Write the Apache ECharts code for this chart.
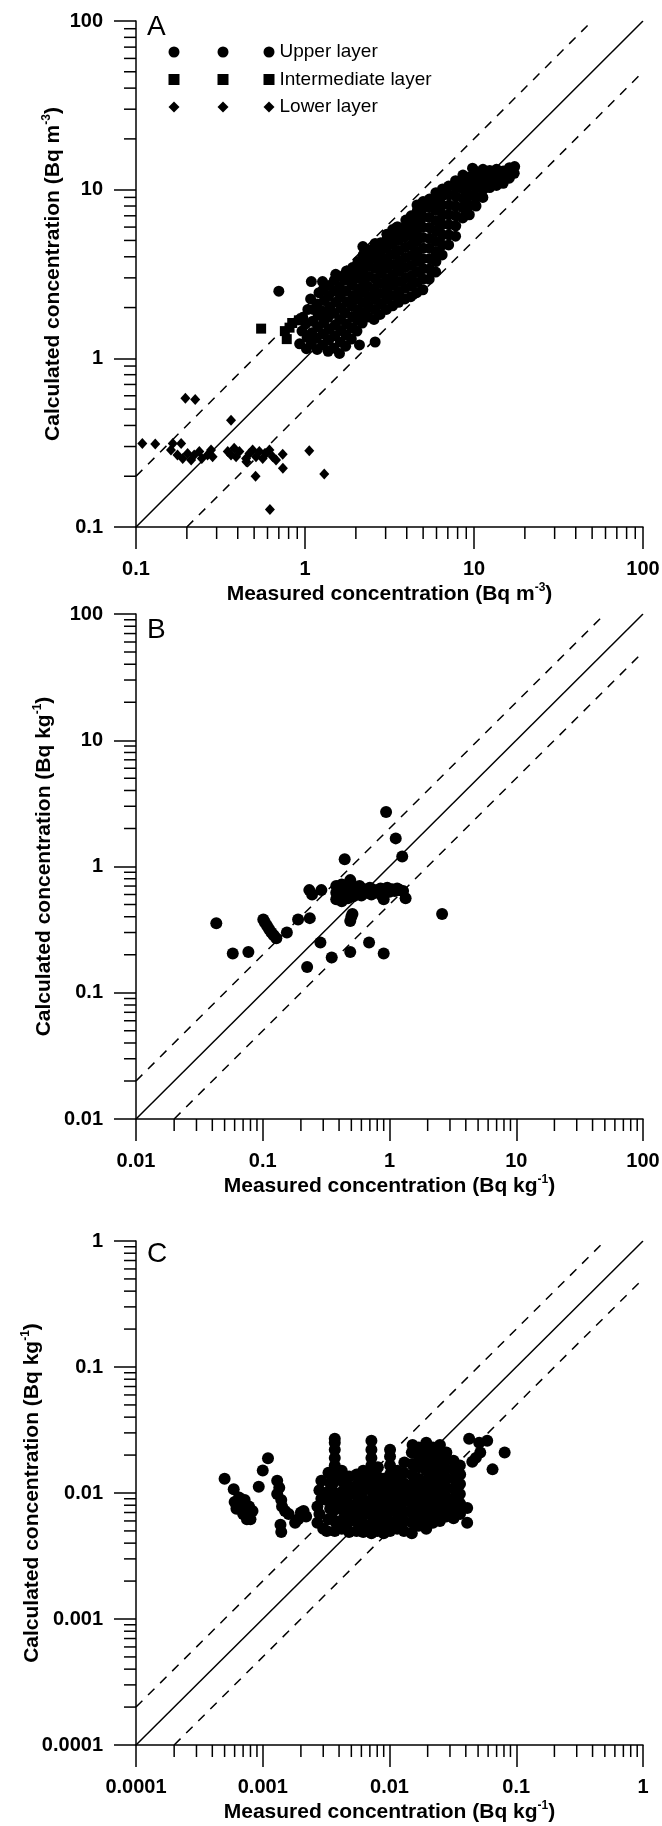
<!DOCTYPE html>
<html>
<head>
<meta charset="utf-8">
<script src="https://cdn.jsdelivr.net/npm/echarts@6/dist/echarts.min.js"></script>
<style>
html, body { margin: 0; padding: 0; background: #fff; }
#chart { width: 662px; height: 1826px; }
</style>
</head>
<body>
<div id="chart"></div>
<script>
var FONT = "'Liberation Sans', Arial, sans-serif";

// ---- panel A: Bq m-3, three layers ----
var aTicks = [0.1, 1, 10, 100];
var aUpper = [
  [0.93,1.22],[0.96,1.45],[0.97,1.75],
  [1.02,1.14],[1.03,1.33],[1.01,1.6],[1.04,1.95],
  [1.09,1.22],[1.1,1.42],[1.11,1.66],[1.08,2.25],[1.12,1.95],
  [1.18,1.13],[1.17,1.32],[1.19,1.54],[1.2,1.8],[1.18,2.1],[1.21,2.45],
  [1.27,1.2],[1.28,1.4],[1.29,1.63],[1.27,1.9],[1.3,2.2],[1.28,2.55],[1.27,2.85],
  [1.37,1.1],[1.38,1.28],[1.39,1.5],[1.37,1.75],[1.4,2.02],[1.38,2.35],[1.39,2.7],
  [1.48,1.15],[1.5,1.36],[1.51,1.58],[1.49,1.85],[1.52,2.15],[1.5,2.5],[1.49,2.9],[1.52,3.15],
  [1.6,1.07],[1.62,1.25],[1.63,1.46],[1.61,1.7],[1.64,1.98],[1.62,2.3],[1.6,2.65],[1.63,3.05],
  [1.74,1.18],[1.75,1.38],[1.76,1.6],[1.73,1.86],[1.77,2.16],[1.75,2.5],[1.74,2.9],[1.76,3.3],
  [1.88,1.3],[1.9,1.52],[1.91,1.76],[1.89,2.04],[1.92,2.36],[1.9,2.72],[1.88,3.1],[1.91,3.45],
  [2.03,1.45],[2.05,1.68],[2.06,1.94],[2.04,2.24],[2.07,2.58],[2.05,2.98],[2.03,3.4],[2.06,3.75],
  [2.18,1.62],[2.2,1.86],[2.21,2.14],[2.19,2.46],[2.22,2.84],[2.2,3.26],[2.18,3.7],[2.21,4.1],
  [2.36,1.76],[2.38,2.02],[2.39,2.32],[2.37,2.66],[2.4,3.06],[2.38,3.52],[2.36,4.0],[2.39,4.4],
  [2.56,1.7],[2.58,1.95],[2.59,2.24],[2.57,2.58],[2.6,2.96],[2.58,3.42],[2.56,3.92],[2.59,4.45],[2.6,4.8],
  [2.78,1.82],[2.8,2.1],[2.81,2.42],[2.79,2.78],[2.82,3.2],[2.8,3.68],[2.78,4.22],[2.81,4.85],
  [3.03,1.95],[3.05,2.24],[3.06,2.58],[3.04,2.96],[3.07,3.42],[3.05,3.92],[3.03,4.5],[3.06,5.1],[3.05,5.45],
  [3.3,2.05],[3.32,2.36],[3.33,2.72],[3.31,3.12],[3.34,3.6],[3.32,4.14],[3.3,4.76],[3.33,5.4],[3.3,5.8],
  [3.58,2.15],[3.6,2.48],[3.61,2.85],[3.59,3.28],[3.62,3.78],[3.6,4.35],[3.58,5.0],[3.61,5.7],[3.55,6.0],
  [3.9,2.25],[3.92,2.6],[3.93,3.0],[3.91,3.45],[3.94,3.96],[3.92,4.55],[3.9,5.25],[3.93,6.0],[3.95,6.6],
  [4.23,2.32],[4.25,2.68],[4.26,3.08],[4.24,3.55],[4.27,4.08],[4.25,4.7],[4.23,5.4],[4.26,6.2],[4.25,7.0],
  [4.58,2.45],[4.6,2.82],[4.61,3.25],[4.59,3.75],[4.62,4.3],[4.6,4.95],[4.58,5.7],[4.61,6.55],[4.62,7.5],[4.6,8.1],
  [4.98,2.55],[5.0,2.95],[5.01,3.4],[4.99,3.9],[5.02,4.5],[5.0,5.2],[4.98,6.0],[5.01,6.9],[5.02,7.8],[5.0,8.5],
  [5.43,2.95],[5.45,3.38],[5.46,3.9],[5.44,4.5],[5.47,5.15],[5.45,5.95],[5.43,6.85],[5.46,7.85],[5.45,8.8],
  [5.93,3.25],[5.95,3.75],[5.96,4.3],[5.94,4.95],[5.97,5.7],[5.95,6.55],[5.93,7.55],[5.96,8.6],[5.95,9.6],
  [6.48,4.1],[6.5,4.7],[6.51,5.4],[6.49,6.2],[6.52,7.1],[6.5,8.1],[6.48,9.2],[6.51,10.1],
  [7.08,4.7],[7.1,5.4],[7.11,6.2],[7.09,7.1],[7.12,8.1],[7.1,9.3],[7.08,10.5],
  [7.78,5.3],[7.8,6.1],[7.81,7.0],[7.79,8.0],[7.82,9.1],[7.8,10.3],[7.78,11.3],
  [8.58,6.8],[8.6,7.8],[8.61,8.9],[8.59,10.1],[8.62,11.3],[8.6,12.2],
  [9.38,7.1],[9.4,8.1],[9.41,9.3],[9.39,10.6],[9.42,11.9],[9.8,13.4],
  [10.28,8.0],[10.3,9.0],[10.31,10.2],[10.29,11.5],[10.32,12.8],
  [11.28,9.0],[11.3,10.0],[11.31,11.2],[11.29,12.4],[11.3,13.2],
  [12.38,10.3],[12.4,11.3],[12.41,12.3],[12.39,13.0],
  [13.58,10.6],[13.6,11.6],[13.61,12.6],[13.59,13.2],
  [14.88,10.9],[14.9,11.9],[14.91,12.9],
  [16.18,11.7],[16.2,12.7],[16.21,13.5],
  [17.3,12.5],[17.4,13.7],
  [0.70,2.5],[1.09,2.85],[2.2,4.6],[2.1,1.2],[2.6,1.25],[6.2,4.1],[9.0,7.1],[3.5,6.0]
];
var aInter = [[0.55,1.5],[0.76,1.45],[0.78,1.3],[0.84,1.62],[0.92,1.68],[0.81,1.52]];
var aLower = [
  [0.109,0.313],[0.13,0.31],[0.161,0.286],[0.165,0.313],[0.185,0.313],[0.176,0.267],
  [0.189,0.255],[0.202,0.273],[0.212,0.25],[0.221,0.267],[0.237,0.28],[0.245,0.255],
  [0.265,0.267],[0.278,0.286],[0.284,0.261],[0.196,0.58],[0.224,0.57],[0.365,0.43],
  [0.349,0.28],[0.365,0.267],[0.381,0.293],[0.391,0.261],[0.409,0.28],[0.448,0.255],
  [0.469,0.273],[0.49,0.286],[0.513,0.261],[0.537,0.28],[0.562,0.255],[0.588,0.273],
  [0.616,0.286],[0.644,0.261],[0.674,0.25],[0.738,0.27],[0.45,0.244],
  [1.06,0.283],[0.74,0.223],[0.51,0.2],[1.3,0.206],[0.62,0.127]
];

// ---- panel B: Bq kg-1 ----
var bTicks = [0.01, 0.1, 1, 10, 100];
var bPoints = [
  [0.043,0.355],[0.058,0.205],[0.077,0.21],[0.101,0.38],[0.104,0.36],[0.108,0.34],
  [0.112,0.32],[0.117,0.30],[0.122,0.285],[0.128,0.27],[0.155,0.30],[0.19,0.38],
  [0.235,0.39],[0.233,0.65],[0.245,0.60],[0.29,0.65],[0.285,0.25],[0.224,0.16],
  [0.35,0.19],[0.443,1.14],[0.49,0.78],[0.94,2.7],[1.12,1.67],[1.26,1.2],[1.34,0.56],
  [2.6,0.42],[0.5,0.40],[0.49,0.37],[0.51,0.42],[0.49,0.21],[0.69,0.25],[0.90,0.205],
  [0.38,0.55],[0.38,0.62],[0.38,0.70],[0.40,0.58],[0.40,0.66],[0.42,0.53],[0.42,0.72],
  [0.44,0.60],[0.45,0.68],[0.47,0.56],[0.48,0.64],[0.50,0.72],[0.52,0.58],[0.53,0.66],
  [0.56,0.62],[0.58,0.70],[0.60,0.59],[0.63,0.66],[0.66,0.62],[0.70,0.68],[0.72,0.60],
  [0.76,0.65],[0.80,0.62],[0.85,0.67],[0.88,0.58],[0.92,0.64],[0.96,0.68],[1.0,0.63],
  [1.05,0.66],[1.1,0.64],[1.15,0.67],[1.2,0.65],[1.28,0.64],[0.9,0.55]
];

// ---- panel C: Bq kg-1 ----
var cTicks = [0.0001, 0.001, 0.01, 0.1, 1];
var cPoints = [
  [0.0005,0.013],[0.00059,0.0107],[0.0006,0.0085],[0.00062,0.0075],[0.00065,0.0092],
  [0.00068,0.008],[0.0007,0.0068],[0.00072,0.0088],[0.00075,0.0062],[0.00078,0.0078],
  [0.0008,0.0062],[0.00083,0.0072],[0.00093,0.0112],[0.001,0.0151],[0.0011,0.0189],
  [0.0013,0.0125],[0.00135,0.011],[0.0013,0.0098],[0.0014,0.0088],[0.00142,0.0078],
  [0.0015,0.0072],[0.00138,0.0056],[0.0014,0.0049],[0.0016,0.0068],
  [0.0019,0.0062],[0.002,0.007],[0.0021,0.0072],[0.0022,0.0065],[0.0018,0.0058],
  [0.0027,0.0058],[0.0028,0.0068],[0.0027,0.0078],[0.0029,0.009],[0.0028,0.0105],[0.0029,0.0125],[0.003,0.0052],
  [0.0032,0.005],[0.0033,0.0062],[0.0034,0.0075],[0.0032,0.0088],[0.0033,0.0103],[0.0034,0.012],[0.0033,0.0145],
  [0.0037,0.005],[0.0037,0.006],[0.0036,0.0072],[0.0037,0.0085],[0.0037,0.01],[0.0036,0.012],
  [0.0037,0.014],[0.0037,0.0165],[0.0037,0.019],[0.0037,0.022],[0.0037,0.025],[0.0037,0.027],
  [0.0042,0.0052],[0.0043,0.0062],[0.0042,0.0074],[0.0041,0.0088],[0.0043,0.0104],[0.0042,0.0125],[0.0042,0.015],
  [0.0048,0.0049],[0.0047,0.0058],[0.0049,0.0068],[0.0048,0.008],[0.0047,0.0095],[0.0049,0.0112],[0.0048,0.0135],
  [0.0055,0.005],[0.0054,0.006],[0.0056,0.007],[0.0055,0.0083],[0.0054,0.0098],[0.0056,0.0118],[0.0055,0.014],
  [0.0062,0.0049],[0.0061,0.0058],[0.0063,0.0068],[0.0062,0.0078],[0.0061,0.009],[0.0063,0.0106],[0.0062,0.0125],[0.0062,0.015],
  [0.0072,0.0048],[0.0071,0.0056],[0.0073,0.0065],[0.0072,0.0075],[0.0071,0.0088],[0.0073,0.0103],
  [0.0072,0.012],[0.0072,0.014],[0.0072,0.0165],[0.0072,0.019],[0.0072,0.022],[0.0072,0.026],
  [0.008,0.005],[0.0081,0.006],[0.0079,0.007],[0.008,0.0082],[0.0081,0.0096],[0.0079,0.0114],[0.008,0.0135],[0.0081,0.016],
  [0.009,0.0048],[0.0091,0.0057],[0.0089,0.0067],[0.009,0.0078],[0.0091,0.0092],[0.0089,0.0108],[0.009,0.013],
  [0.0101,0.005],[0.01,0.006],[0.0102,0.0072],[0.0101,0.0085],[0.01,0.01],[0.0102,0.012],
  [0.0101,0.014],[0.0101,0.0165],[0.0101,0.0195],[0.0101,0.022],
  [0.0115,0.0052],[0.0116,0.0062],[0.0114,0.0075],[0.0115,0.009],[0.0116,0.0105],[0.0114,0.0125],[0.0115,0.015],
  [0.013,0.005],[0.0131,0.006],[0.0129,0.0072],[0.013,0.0086],[0.0131,0.0102],[0.0129,0.012],[0.013,0.0145],[0.0131,0.0175],
  [0.015,0.0048],[0.0151,0.0058],[0.0149,0.007],[0.015,0.0083],[0.0151,0.0098],[0.0149,0.0117],[0.015,0.014],[0.0151,0.017],[0.015,0.021],[0.0152,0.024],
  [0.017,0.0055],[0.0171,0.0065],[0.0169,0.0078],[0.017,0.0093],[0.0171,0.011],[0.0169,0.013],[0.017,0.016],[0.0171,0.019],[0.017,0.023],
  [0.0195,0.0052],[0.0196,0.0062],[0.0194,0.0074],[0.0195,0.0088],[0.0196,0.0105],[0.0194,0.0125],[0.0195,0.015],[0.0196,0.018],[0.0194,0.021],[0.0195,0.025],
  [0.022,0.0058],[0.0221,0.0069],[0.0219,0.0082],[0.022,0.0097],[0.0221,0.0115],[0.0219,0.0137],[0.022,0.0163],[0.0221,0.0195],[0.022,0.023],
  [0.025,0.006],[0.0251,0.0072],[0.0249,0.0086],[0.025,0.0102],[0.0251,0.0122],[0.0249,0.0145],[0.025,0.0172],[0.0251,0.0205],[0.025,0.024],
  [0.028,0.0065],[0.0281,0.0078],[0.0279,0.0093],[0.028,0.011],[0.0281,0.013],[0.0279,0.0155],[0.028,0.0185],[0.0281,0.021],
  [0.032,0.0063],[0.0321,0.0075],[0.0319,0.009],[0.032,0.0108],[0.0321,0.013],[0.0319,0.0155],[0.032,0.018],
  [0.036,0.0068],[0.0361,0.0082],[0.0359,0.0098],[0.036,0.0118],[0.0361,0.014],[0.0359,0.0165],
  [0.0425,0.027],[0.041,0.0076],[0.041,0.0058],[0.045,0.0177],[0.048,0.019],[0.051,0.025],
  [0.059,0.026],[0.065,0.0154],[0.081,0.021],[0.052,0.021]
];

var unitBase = ['m', 'kg', 'kg'];
var unitExp = ['-3', '-1', '-1'];
var panelLetters = ['A', 'B', 'C'];

var grids = [
  { left: 136, top: 21, width: 507, height: 506 },
  { left: 136, top: 614, width: 507, height: 505 },
  { left: 136, top: 1241, width: 507, height: 504 }
];
var yNameGap = [71, 80, 92];
var letterTop = [13, 616, 1240];
var allTicks = [aTicks, bTicks, cTicks];

// 2..9 within every decade, in data units
function minorVals(ticks) {
  var out = [];
  for (var i = 0; i < ticks.length - 1; i++) {
    for (var k = 2; k < 10; k++) out.push(+(ticks[i] * k).toPrecision(6));
  }
  return out;
}

function tickFormatter(ticks) {
  return function (v) {
    for (var i = 0; i < ticks.length; i++) {
      if (Math.abs(Math.log10(v) - Math.log10(ticks[i])) < 1e-6) return String(ticks[i]);
    }
    return '';
  };
}

var nameRich = {
  t: { fontSize: 21, fontWeight: 'bold', fontFamily: FONT, color: '#000', lineHeight: 24 },
  s: { fontSize: 12, fontWeight: 'bold', fontFamily: FONT, color: '#000', lineHeight: 12, verticalAlign: 'top' }
};

function logAxis(gi, ticks, title, pos, gap) {
  return {
    type: 'log', logBase: 10, gridIndex: gi, position: pos,
    min: ticks[0], max: ticks[ticks.length - 1],
    axisLine: { show: true, onZero: false, lineStyle: { color: '#000', width: 1.5 } },
    axisTick: { show: true, inside: false, length: 22, lineStyle: { color: '#000', width: 1.5 } },
    minorTick: { show: false },
    splitLine: { show: false },
    axisLabel: {
      margin: pos === 'bottom' ? 32 : 33, color: '#000', fontSize: 20, fontWeight: 'bold',
      fontFamily: FONT, formatter: tickFormatter(ticks)
    },
    name: title, nameLocation: 'middle', nameGap: gap, nameMoveOverlap: false,
    nameTextStyle: { rich: nameRich }
  };
}

var xAxes = [], yAxes = [], series = [];
for (var p = 0; p < 3; p++) {
  var tk = allTicks[p];
  var unit = '(Bq ' + unitBase[p] + '}{s|' + unitExp[p] + '}{t|)}';
  xAxes.push(logAxis(p, tk, '{t|Measured concentration ' + unit, 'bottom', 55));
  yAxes.push(logAxis(p, tk, '{t|Calculated concentration ' + unit, 'left', yNameGap[p]));

  // 1:1 line and the factor-of-2 band
  var lo = tk[0], hi = tk[tk.length - 1];
  var ref = [
    { d: [[lo, lo], [hi, hi]], type: 'solid' },
    { d: [[lo, lo * 2], [hi / 2, hi]], type: [9, 8] },
    { d: [[lo * 2, lo], [hi, hi / 2]], type: [9, 8] }
  ];
  ref.forEach(function (r) {
    series.push({
      type: 'line', xAxisIndex: p, yAxisIndex: p, data: r.d,
      symbol: 'none', silent: true, z: 2, animation: false,
      lineStyle: { color: '#000', width: 1.5, type: r.type }
    });
  });
}

function scatter(p, name, data, symbol, size) {
  return {
    type: 'scatter', name: name, xAxisIndex: p, yAxisIndex: p,
    data: data, symbol: symbol, symbolSize: size, z: 3, silent: true,
    itemStyle: { color: '#000', opacity: 1 }
  };
}
series.push(scatter(0, 'Upper layer', aUpper, 'circle', 11));
series.push(scatter(0, 'Intermediate layer', aInter, 'rect', 10));
series.push(scatter(0, 'Lower layer', aLower, 'diamond', [10, 11]));
series.push(scatter(1, 'B', bPoints, 'circle', 12));
series.push(scatter(2, 'C', cPoints, 'circle', 12));

var legendData = [
  { name: 'Upper layer', icon: 'circle' },
  { name: 'Intermediate layer', icon: 'rect' },
  { name: 'Lower layer', icon: 'diamond' }
];
function legendCol(left, withText) {
  return {
    data: legendData, left: left, top: 42, orient: 'vertical',
    itemWidth: 11, itemHeight: 11, itemGap: 7.5, selectedMode: false, padding: 0,
    formatter: withText ? function (n) { return n; } : function () { return ' '; },
    textStyle: { color: '#000', fontSize: 19, fontFamily: FONT, lineHeight: 20 }
  };
}

var chart = echarts.init(document.getElementById('chart'), null, { renderer: 'canvas' });
chart.setOption({
  backgroundColor: '#fff',
  animation: false,
  grid: grids.map(function (g) {
    return { left: g.left, top: g.top, width: g.width, height: g.height, containLabel: false, outerBoundsMode: 'none', show: false };
  }),
  xAxis: xAxes,
  yAxis: yAxes,
  legend: [legendCol(168.5, false), legendCol(217.5, false), legendCol(263.5, true)],
  series: series
});

// panel letters, plus the short 2..9 ticks placed with the axes' own scale
var extras = panelLetters.map(function (L, i) {
  return {
    type: 'text', left: 147, top: letterTop[i], silent: true,
    style: { text: L, fontSize: 28, fontFamily: FONT, fill: '#000' }
  };
});
for (var q = 0; q < 3; q++) {
  var t = allTicks[q], base = t[0];
  minorVals(t).forEach(function (v) {
    var a = chart.convertToPixel({ xAxisIndex: q, yAxisIndex: q }, [v, base]);
    var b = chart.convertToPixel({ xAxisIndex: q, yAxisIndex: q }, [base, v]);
    extras.push({ type: 'line', silent: true, z: 10,
      shape: { x1: a[0], y1: a[1], x2: a[0], y2: a[1] + 12 },
      style: { stroke: '#000', lineWidth: 1.5 } });
    extras.push({ type: 'line', silent: true, z: 10,
      shape: { x1: b[0], y1: b[1], x2: b[0] - 12, y2: b[1] },
      style: { stroke: '#000', lineWidth: 1.5 } });
  });
}
chart.setOption({ graphic: { elements: extras } });
</script>
</body>
</html>
